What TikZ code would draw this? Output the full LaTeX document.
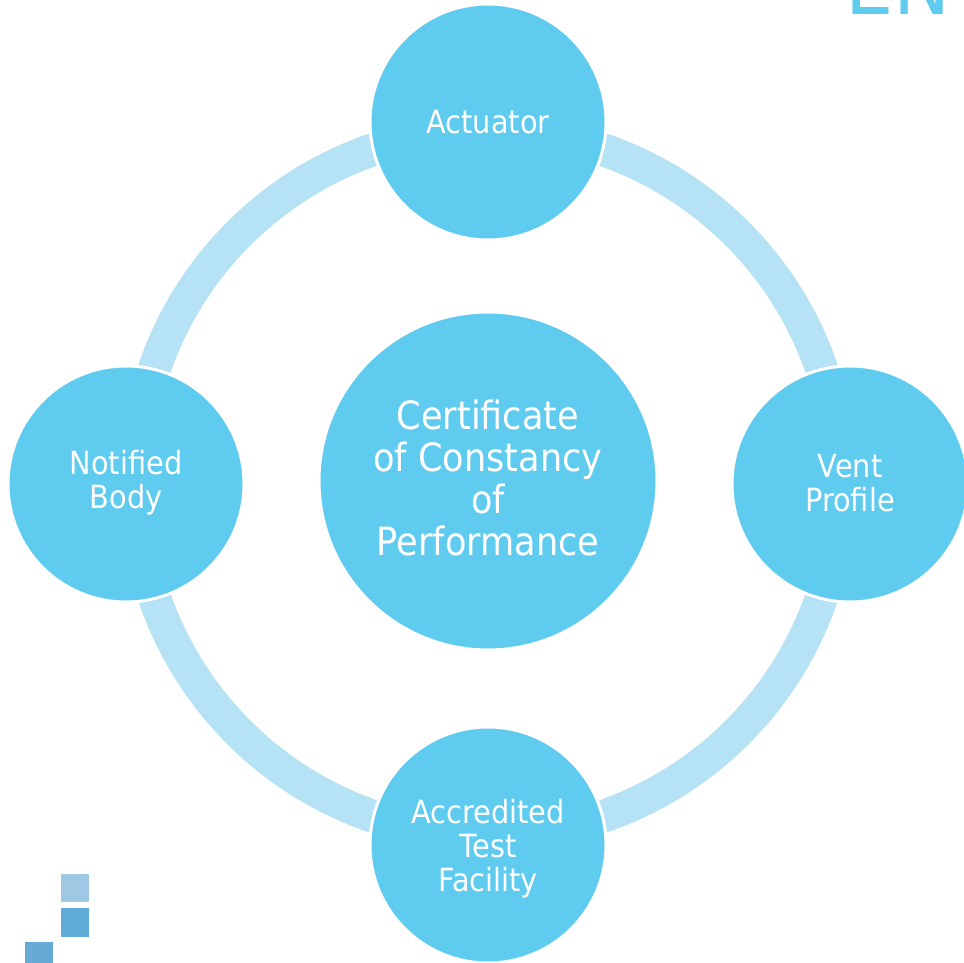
\documentclass[tikz,border=0pt]{standalone}
\usepackage{fontspec}
\setmainfont{DejaVu Sans}[FakeStretch=0.9]
\definecolor{bubble}{HTML}{5FCBEF}
\definecolor{ringblue}{HTML}{B6E2F5}
\definecolor{squareA}{HTML}{9EC8E3}
\definecolor{squareB}{HTML}{5FAED9}
\definecolor{squareC}{HTML}{66AAD5}
\tikzset{
  bubblenode/.style={circle, fill=bubble, draw=white, line width=3pt,
    inner sep=0pt},
  smallbubble/.style={bubblenode, minimum size=236pt},
  bigbubble/.style={bubblenode, minimum size=338pt},
  smalltext/.style={text=white, align=center, inner sep=0pt,
    font=\fontsize{32}{34}\selectfont},
  bigtext/.style={text=white, align=center, inner sep=0pt,
    font=\fontsize{39}{41.7}\selectfont},
}
\begin{document}
\begin{tikzpicture}[x=1pt, y=-1pt]
  \useasboundingbox (0,0) rectangle (964,963);
  \clip (0,0) rectangle (964,963);

  % cropped header mark
  \node[anchor=base west, inner sep=0pt, text=bubble,
        font=\fontsize{85}{85}\selectfont] (mark) at (845,15) {EN};

  % connecting ring
  \coordinate (c) at (488,483);
  \draw[ringblue, line width=33pt] (c) circle[radius=352.5pt];

  % central and outer bubbles
  \node[bigbubble]   (cert) at (488,481) {};
  \node[smallbubble] (act)  at (488,122) {};
  \node[smallbubble] (vent) at (850,484) {};
  \node[smallbubble] (test) at (488,845) {};
  \node[smallbubble] (nb)   at (126,484) {};

  % bubble captions
  \node[bigtext]   (certtext) at (488,478) {Certificate\\of Constancy\\of\\Performance};
  \node[smalltext] (acttext)  at (488,122) {Actuator};
  \node[smalltext] (venttext) at (850,483) {Vent\\Profile};
  \node[smalltext] (testtext) at (488,849) {Accredited\\Test\\Facility};
  \node[smalltext] (nbtext)   at (126,483) {Notified\\Body};

  % corner squares
  \fill[squareA] (61,874) rectangle (89,902);
  \fill[squareB] (61,908) rectangle (89,937);
  \fill[squareC] (25,942) rectangle (53,970);
\end{tikzpicture}
\end{document}
